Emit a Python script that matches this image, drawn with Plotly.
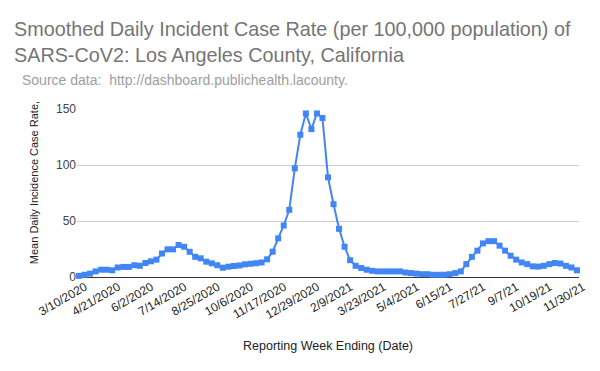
import plotly.graph_objects as go
import pandas as pd

# Weekly reporting dates (week ending), 3/10/2020 .. 11/30/2021
week_dates = pd.date_range("2020-03-10", "2021-11-30", freq="7D")

case_rate = [
    1, 2, 3, 5, 6.5, 6.5, 6, 8.5, 9, 9,
    10.5, 10, 12.5, 14, 15.5, 21, 24.7, 24.7, 28.6, 27,
    22.5, 18, 16.7, 13.7, 12.2, 10.5, 8.3, 9.2, 9.8, 10.3,
    11.3, 11.8, 12.3, 13, 15.8, 22.6, 34.5, 46, 60, 97,
    127, 146, 132, 146, 142, 89, 65, 43, 27, 15,
    10, 8, 6.5, 5.5, 5, 5, 5, 5, 5, 4,
    3.5, 3, 2.5, 2.5, 2, 2, 2, 2.5, 3.5, 5,
    11.5, 18, 23.5, 30, 32, 32, 28, 23.5, 19, 15.5,
    13, 11.5, 9.5, 9.3, 10, 11.5, 12.5, 12, 10, 8.5,
    6,
]

tick_labels = [
    "3/10/2020", "4/21/2020", "6/2/2020", "7/14/2020", "8/25/2020",
    "10/6/2020", "11/17/2020", "12/29/2020", "2/9/2021", "3/23/2021",
    "5/4/2021", "6/15/21", "7/27/21", "9/7/21", "10/19/21", "11/30/21",
]
tick_dates = week_dates[::6]

y_ticks = [0, 50, 100, 150]

BLUE = "#4285F4"
FONT = "Liberation Sans, Arial, sans-serif"

# page body has an 8px margin, so the figure is 592x363 and shifted
W, H = 592, 363
OFF = 8
PL, PT, PW, PH = 77, 109, 504, 168  # plot area in page pixels

fig = go.Figure()
fig.add_trace(go.Scatter(
    x=week_dates, y=case_rate, mode="lines+markers",
    line=dict(color=BLUE, width=2),
    marker=dict(symbol="square", size=6, color=BLUE),
    cliponaxis=False, showlegend=False,
))

pad = pd.Timedelta(days=2.5)
fig.update_layout(
    width=W, height=H,
    margin=dict(l=PL - OFF, r=19, t=PT - OFF, b=94),
    paper_bgcolor="white", plot_bgcolor="white",
    font=dict(family=FONT, color="#222222"),
    title=dict(
        text="Smoothed Daily Incident Case Rate (per 100,000 population) of<br>SARS-CoV2: Los Angeles County, California",
        xref="container", yref="container", x=(14 - OFF) / W, xanchor="left",
        y=1 - 28 / H, yanchor="top",
        font=dict(family=FONT, size=19.8, color="#757575"),
    ),
    annotations=[
        dict(
            text="Source data:  http://dashboard.publichealth.lacounty.",
            xref="paper", yref="paper", x=(20 - PL) / PW, y=1 + (PT - 80) / PH,
            xanchor="left", yanchor="middle", showarrow=False,
            font=dict(family=FONT, size=14, color="#9e9e9e"),
        ),
        dict(
            text="Mean Daily Incidence Case Rate,",
            xref="paper", yref="paper", x=(34 - PL) / PW, y=(PT + PH - 183) / PH,
            xanchor="center", yanchor="middle", textangle=-90, showarrow=False,
            font=dict(family=FONT, size=11, color="#222222"),
        ),
    ],
    xaxis=dict(
        range=[week_dates[0] - pad, week_dates[-1] + pad],
        tickmode="array", tickvals=tick_dates, ticktext=tick_labels,
        tickangle=-30, tickfont=dict(size=12, color="#222222"),
        ticklabelshift=6,
        showgrid=False, showline=False, zeroline=False, ticks="",
        title=dict(text="Reporting Week Ending (Date)", font=dict(size=12.5, color="#222222"), standoff=20),
    ),
    yaxis=dict(
        range=[0, 150], tickmode="array", tickvals=y_ticks,
        tickfont=dict(size=12, color="#444444"),
        showgrid=True, gridcolor="#cccccc", gridwidth=1,
        zeroline=True, zerolinecolor="#333333", zerolinewidth=1,
        showline=False, ticks="",
    ),
)

fig.write_html("out.html")
